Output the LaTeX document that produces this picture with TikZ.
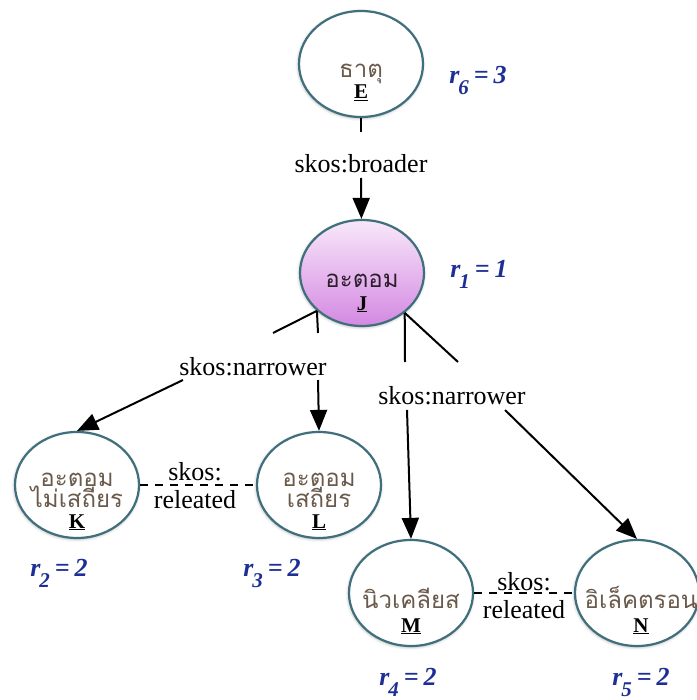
\documentclass[tikz,border=0pt]{standalone}
\usepackage{fontspec}
\setmainfont{Liberation Serif}
\newfontfamily\thaifont[Script=Thai]{Loma}
\usetikzlibrary{arrows.meta,shapes.geometric,shadows.blur}

\definecolor{rim}{HTML}{3F6F7C}
\definecolor{thaitext}{HTML}{6A5A4C}
\definecolor{atomtext}{HTML}{2B1F2B}
\definecolor{rankblue}{HTML}{1D2F96}
\definecolor{atomtop}{HTML}{F8E8FA}
\definecolor{atombottom}{HTML}{D488E2}

% rank label: r with a lowered index, then its value
\newcommand{\rank}[2]{r\kern-1pt\raisebox{-11pt}{\fontsize{21}{21}\selectfont #1}\kern5pt=\kern5pt#2}

\begin{document}
\begin{tikzpicture}[x=1pt,y=-1pt,
  concept/.style={ellipse, draw=rim, line width=2.2pt, fill=white,
    minimum width=124pt, minimum height=106pt, inner sep=0pt,
    blur shadow={shadow xshift=-0.5pt, shadow yshift=-1pt,
      shadow blur radius=3pt, shadow opacity=35}},
  thai/.style={font=\thaifont\fontsize{24}{24}\selectfont, text=thaitext,
    inner sep=0pt, anchor=base},
  code/.style={font=\fontsize{21}{21}\selectfont\bfseries, inner sep=0pt,
    anchor=base},
  rel/.style={font=\fontsize{26}{26}\selectfont, inner sep=0pt, anchor=base},
  rankstyle/.style={font=\fontsize{26}{26}\selectfont\bfseries\itshape,
    text=rankblue, inner sep=0pt, anchor=base},
  link/.style={line width=2pt, black},
  arr/.style={link, -{Triangle[length=21pt,width=17pt]}},
  related/.style={line width=1.6pt, dash pattern=on 8pt off 7pt}]

\useasboundingbox (0,0) rectangle (696,700);

% concepts
\node[concept] (E) at (361,64) {};
\node[concept, top color=atomtop, bottom color=atombottom] (J) at (362,273) {};
\node[concept] (K) at (77,485) {};
\node[concept] (L) at (319,485) {};
\node[concept] (M) at (411,593) {};
\node[concept] (N) at (637,593) {};

% concept names and codes
\node[thai] (Et) at (361,78) {ธาตุ};
\node[code] (Ec) at (361,99) {\underline{E}};
\node[thai, text=atomtext] (Jt) at (362,287) {อะตอม};
\node[code] (Jc) at (362,310) {\underline{J}};
\node[thai] (Kt1) at (77,486) {อะตอม};
\node[thai] (Kt2) at (77,507) {ไม่เสถียร};
\node[code] (Kc) at (77,528) {\underline{K}};
\node[thai] (Lt1) at (319,486) {อะตอม};
\node[thai] (Lt2) at (319,507) {เสถียร};
\node[code] (Lc) at (319,528) {\underline{L}};
\node[thai] (Mt) at (411,608) {นิวเคลียส};
\node[code] (Mc) at (411,632) {\underline{M}};
\node[thai] (Nt) at (641,608) {อิเล็คตรอน};
\node[code] (Nc) at (641,632) {\underline{N}};

% ranks
\node[rankstyle] (r6) at (478,84) {\rank{6}{3}};
\node[rankstyle] (r1) at (479,277) {\rank{1}{1}};
\node[rankstyle] (r2) at (59,576) {\rank{2}{2}};
\node[rankstyle] (r3) at (272,576) {\rank{3}{2}};
\node[rankstyle] (r4) at (408,685) {\rank{4}{2}};
\node[rankstyle] (r5) at (641,685) {\rank{5}{2}};

% relation labels
\node[rel] (broader) at (361,173) {skos:broader};
\node[rel] (narrowL) at (253,375) {skos:narrower};
\node[rel] (narrowR) at (452,404) {skos:narrower};
\node[rel] (relKL1) at (195,480) {skos:};
\node[rel] (relKL2) at (195,508) {releated};
\node[rel] (relMN1) at (524,590) {skos:};
\node[rel] (relMN2) at (524,618) {releated};

% line ends around the labels
\coordinate (brTop) at (361,132);
\coordinate (brBot) at (361,178);
\coordinate (nlA) at (273,333);
\coordinate (nlB) at (318,333);
\coordinate (nlC) at (183,380);
\coordinate (nlD) at (318,380);
\coordinate (nrA) at (405,362);
\coordinate (nrB) at (458,362);
\coordinate (nrC) at (407,410);
\coordinate (nrD) at (505,410);

% broader
\draw[link] (E) -- (brTop);
\draw[arr] (brBot) -- (J);

% narrower, left pair
\draw[link] (J.220) -- (nlA);
\draw[link] (J.220) -- (nlB);
\draw[arr] (nlC) -- (K.north);
\draw[arr] (nlD) -- (L.north);

% narrower, right pair
\draw[link] (J.317) -- (nrA);
\draw[link] (J.317) -- (nrB);
\draw[arr] (nrC) -- (M.north);
\draw[arr] (nrD) -- (N.north);

% related
\draw[related] (K) -- (L);
\draw[related] (M) -- (N);
\end{tikzpicture}
\end{document}
